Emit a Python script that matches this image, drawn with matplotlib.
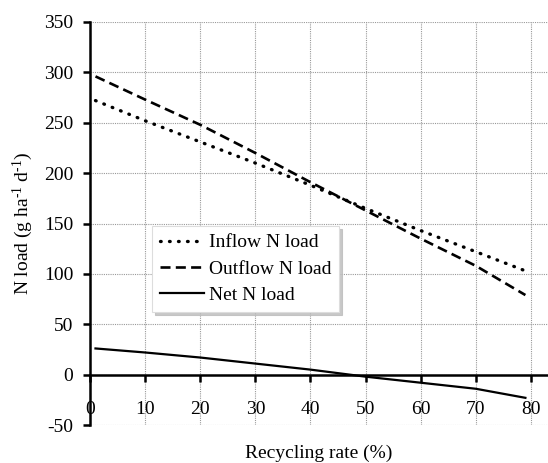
import matplotlib
matplotlib.use("Agg")
import matplotlib.pyplot as plt

plt.rcParams['font.family'] = ['Liberation Serif', 'DejaVu Serif']
plt.rcParams['mathtext.fontset'] = 'custom'
plt.rcParams['mathtext.rm'] = 'Liberation Serif'
plt.rcParams['mathtext.it'] = 'Liberation Serif:italic'
plt.rcParams['axes.unicode_minus'] = False

recycling = [1, 10, 20, 30, 40, 50, 60, 70, 79]
inflow = [272, 252, 231, 210, 188, 165, 143, 122, 103]
outflow = [296, 273, 248, 220, 191, 163, 135, 108, 79]
net = [26, 22, 17, 11, 5, -2, -8, -14, -23]
xticks = [0, 10, 20, 30, 40, 50, 60, 70, 80]
yticks = [-50, 0, 50, 100, 150, 200, 250, 300, 350]

fig = plt.figure(figsize=(5.48, 4.63), dpi=100)
ax = fig.add_axes([0.1642, 0.082, 0.8358, 0.8705])

ax.plot(recycling, inflow, color='black', lw=2.4, linestyle=(0, (0.2, 2.5)),
        dash_capstyle='round', label='Inflow N load', zorder=3)
ax.plot(recycling, outflow, color='black', lw=1.9, linestyle=(0, (3.8, 2.0)),
        label='Outflow N load', zorder=3)
ax.plot(recycling, net, color='black', lw=1.6, label='Net N load', zorder=3)

ax.set_xlim(0, 83.1)
ax.set_ylim(-50, 350)
ax.set_xticks(xticks)
ax.set_yticks(yticks)
ax.grid(True, color='#999999', linestyle=(0, (1, 1)), linewidth=0.8)
ax.set_axisbelow(True)

for s in ['top', 'right']:
    ax.spines[s].set_visible(False)
ax.spines['bottom'].set_position(('data', 0))
ax.spines['bottom'].set_linewidth(1.8)
ax.spines['left'].set_linewidth(1.8)
ax.spines['bottom'].set_zorder(4)
ax.spines['left'].set_zorder(4)

ax.tick_params(axis='x', direction='out', length=5, width=1.8, pad=14, labelsize=14)
ax.tick_params(axis='y', direction='out', length=5, width=1.8, pad=7, labelsize=14)

ax.set_xlabel('Recycling rate (%)', fontsize=14)
ax.xaxis.set_label_coords(0.5, -0.05)
ax.set_ylabel('N load (g ha$^{\\text{-1}}$ d$^{\\text{-1}}$)', fontsize=14)
ax.yaxis.set_label_coords(-0.12, 0.5)

leg = ax.legend(loc='upper left', bbox_to_anchor=(0.135, 0.494), borderaxespad=0,
                fontsize=14, frameon=True, fancybox=False,
                shadow={'color': '#bbbbbb', 'alpha': 0.8},
                handlelength=2.3, handletextpad=0.25, labelspacing=0.45,
                borderpad=0.4, framealpha=1)
leg.get_frame().set_edgecolor('#dddddd')
leg.get_frame().set_linewidth(0.8)

fig.savefig('out.png', dpi=100)
